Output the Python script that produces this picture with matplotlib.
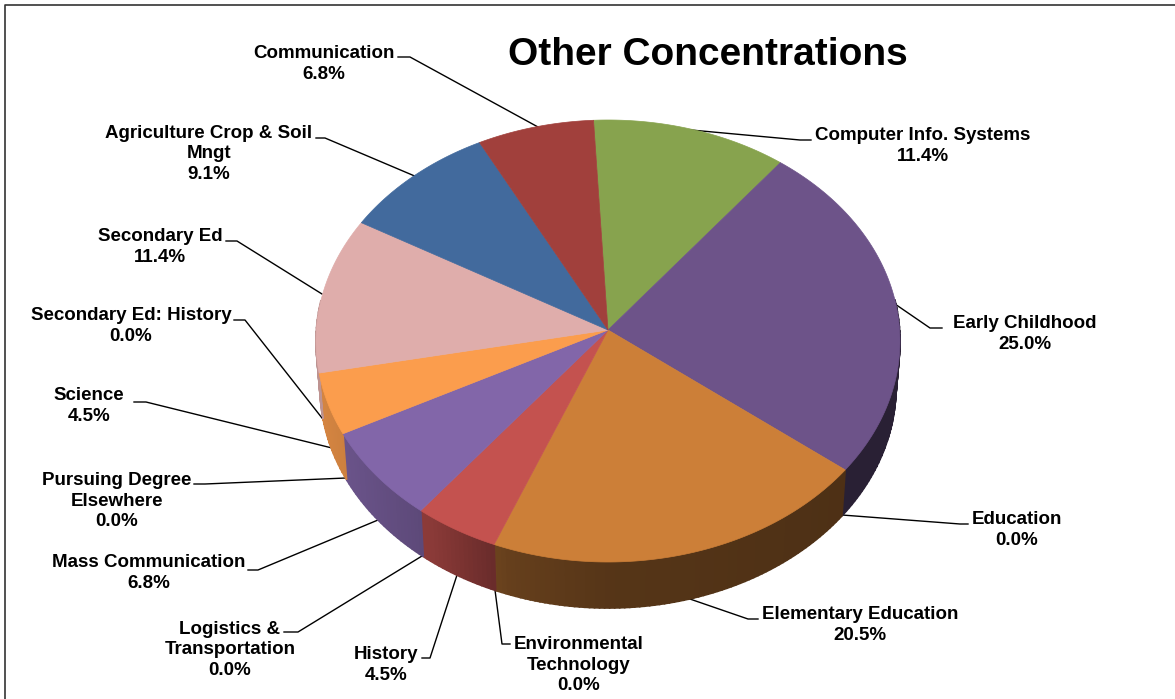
import numpy as np
import matplotlib
matplotlib.use("Agg")
import matplotlib.pyplot as plt
from matplotlib.colors import to_rgb

plt.rcParams['font.family'] = ['Liberation Sans', 'DejaVu Sans']

names = ["Computer Info. Systems", "Early Childhood", "Education", "Elementary Education",
         "Environmental\nTechnology", "History", "Logistics &\nTransportation", "Mass Communication",
         "Pursuing Degree\nElsewhere", "Science", "Secondary Ed: History", "Secondary Ed",
         "Agriculture Crop & Soil\nMngt", "Communication"]
values = [11.4, 25.0, 0.0, 20.5, 0.0, 4.5, 0.0, 6.8, 0.0, 4.5, 0.0, 11.4, 9.1, 6.8]
colors = ["#87A34E", "#6D5389", "#7F7F7F", "#CC7F38", "#7F7F7F", "#C4524F", "#7F7F7F", "#8266A9",
          "#7F7F7F", "#FB9D4D", "#7F7F7F", "#DFADAB", "#426A9D", "#A1403C"]

# label block centres, in pixels of the picture
label_x = [923, 1025, 1017, 860, 579, 386, 230, 149, 117, 89, 131, 160, 209, 324]
label_y = [146, 334, 530, 625, 665, 665, 650, 573, 501, 406, 326, 247, 154, 64]

# leader lines: point on the pie, elbow, end next to the text
leaders = [
    [(691, 130), (800, 140), (811, 140)],
    [(895, 304), (930, 328), (942, 328)],
    [(842, 515), (960, 524), (968, 524)],
    [(687, 598), (748, 619), (758, 619)],
    [(495, 590), (502, 644), (510, 644)],
    [(457, 575), (430, 658), (422, 658)],
    [(422, 556), (298, 632), (284, 632)],
    [(378, 520), (258, 570), (248, 570)],
    [(346, 478), (205, 484), (194, 484)],
    [(332, 448), (146, 402), (134, 402)],
    [(322, 418), (245, 320), (234, 320)],
    [(322, 294), (237, 241), (226, 241)],
    [(417, 177), (325, 138), (316, 138)],
    [(538, 127), (410, 57), (398, 57)],
]

# pie geometry
cx, cy, a, b = 608, 341, 292, 221
apex = (608, 330)
depth, a_low = 46, 288
start = 93

fig = plt.figure(figsize=(11.75, 6.99), dpi=100)
ax = fig.add_axes([0, 0, 1, 1])
ax.set_xlim(0, 1175)
ax.set_ylim(699, 0)
ax.axis("off")

# frame: only the left and top edges are in the picture
ax.plot([5, 5, 1175], [699, 5, 5], color="#333333", lw=1.2)

edges = start - np.cumsum([0] + values) / sum(values) * 360
# the tilted view pulls the slice edges round a little
edges = edges + 3 * np.cos(np.radians(edges))


def shade(theta):
    # side wall gets darker going from left to right
    x = np.cos(np.radians(theta))
    return np.interp(x, [-1, -0.6, -0.35, 0, 0.8, 1], [0.85, 0.7, 0.5, 0.42, 0.38, 0.38])


# side wall, cut into thin strips for the gradient
for i, v in enumerate(values):
    if v == 0:
        continue
    th = np.arange(edges[i], edges[i + 1], -1.0)
    th = np.append(th, edges[i + 1])
    base = np.array(to_rgb(colors[i]))
    for t0, t1 in zip(th[:-1], th[1:]):
        s0, s1 = np.sin(np.radians(t0)), np.sin(np.radians(t1))
        if max(s0, s1) > 0.2:
            continue
        xs = [cx + a * np.cos(np.radians(t0)), cx + a * np.cos(np.radians(t1)),
              cx + a_low * np.cos(np.radians(t1)), cx + a_low * np.cos(np.radians(t0))]
        ys = [cy - b * s0, cy - b * s1, cy + depth - b * s1, cy + depth - b * s0]
        col = base * shade((t0 + t1) / 2)
        ax.fill(xs, ys, color=col, lw=1.2, zorder=2)

# top face
for i, v in enumerate(values):
    if v == 0:
        continue
    th = np.radians(np.linspace(edges[i], edges[i + 1], 80))
    xs = np.r_[apex[0], cx + a * np.cos(th)]
    ys = np.r_[apex[1], cy - b * np.sin(th)]
    ax.fill(xs, ys, color=colors[i], lw=0.5, zorder=3)

# labels and leaders
for i, name in enumerate(names):
    ax.text(label_x[i], label_y[i], f"{name}\n{values[i]:.1f}%", ha="center", va="center",
            fontsize=13.5, fontweight="bold", color="black", linespacing=1.27, zorder=5)
    px, py = zip(*leaders[i])
    ax.plot(px, py, color="black", lw=1.0, zorder=1)

ax.text(708, 55, "Other Concentrations", ha="center", va="center", fontsize=28, fontweight="bold")

fig.savefig("out.png", dpi=100)
